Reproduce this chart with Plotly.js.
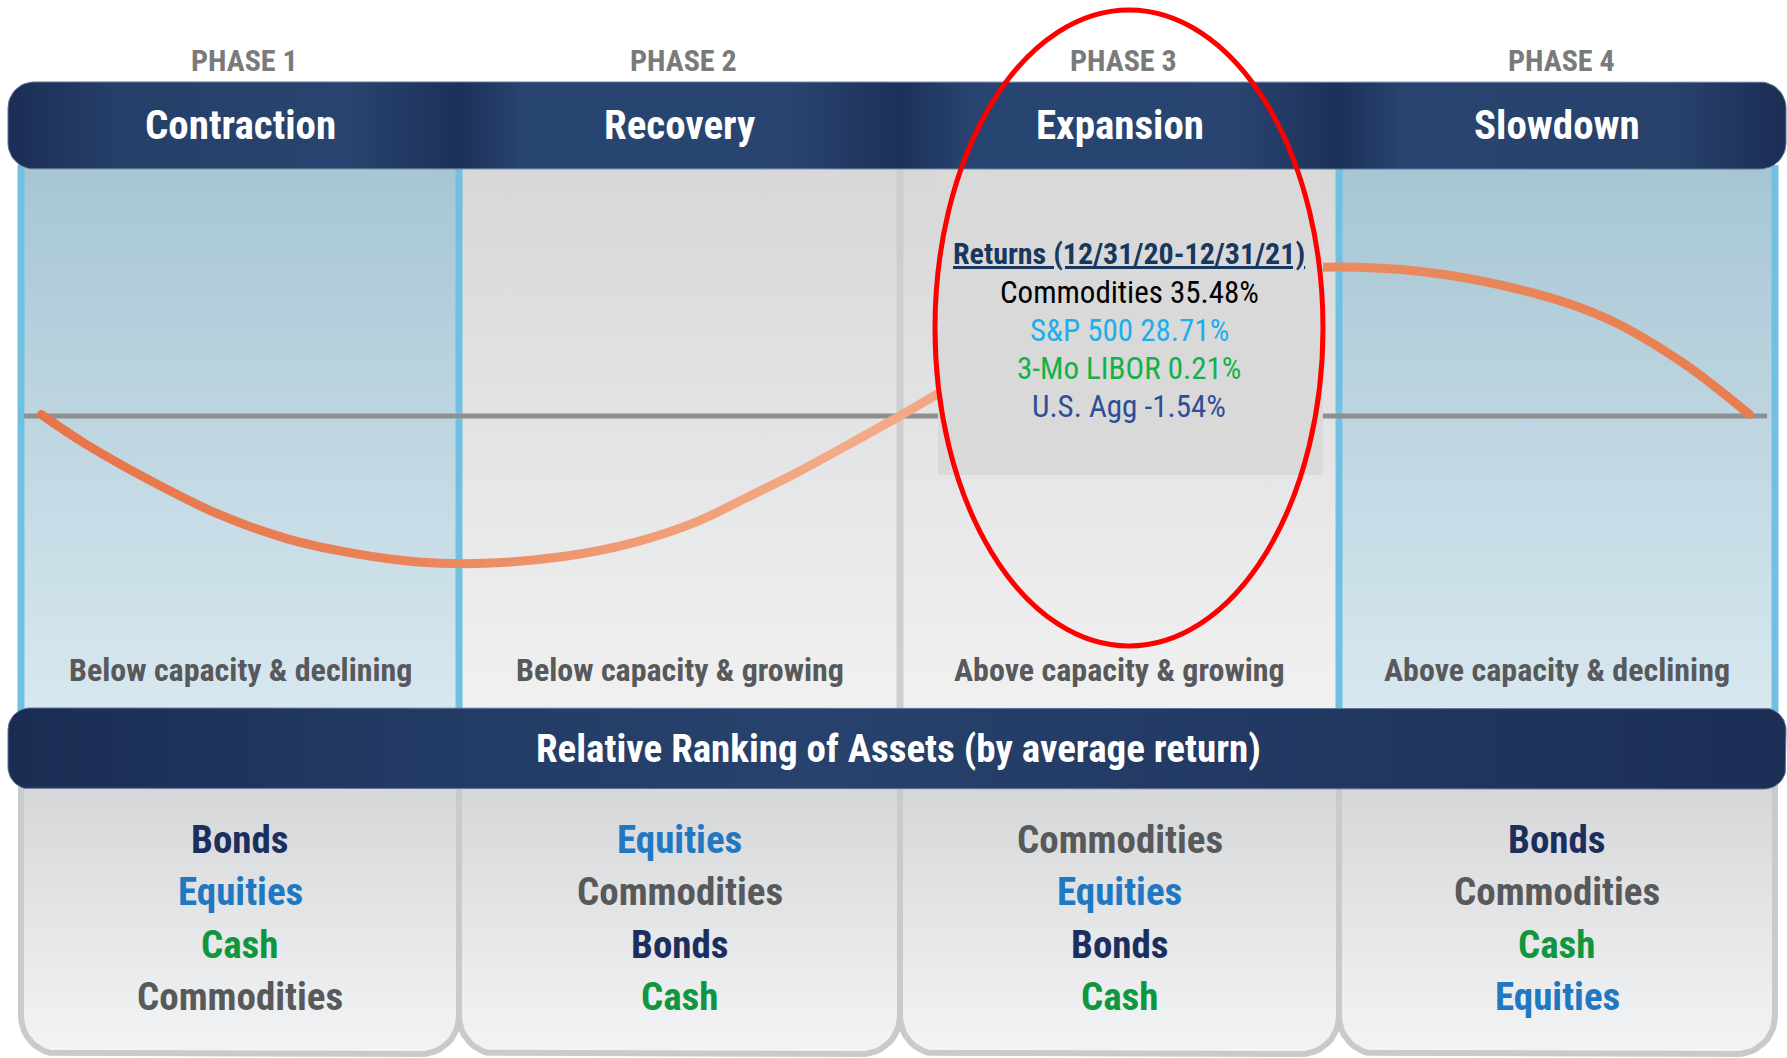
<!DOCTYPE html>
<html>
<head>
<meta charset="utf-8">
<script src="https://cdn.plot.ly/plotly-3.0.1.min.js"></script>
<style>html,body{margin:0;padding:0;background:#fff;}#chart{width:1787px;height:1058px;}</style>
</head>
<body>
<div id="chart"></div>
<script>
// ---------------- DATA ----------------
const phaseLabels = ['PHASE 1', 'PHASE 2', 'PHASE 3', 'PHASE 4'];
const phaseNames = ['Contraction', 'Recovery', 'Expansion', 'Slowdown'];
const phaseStates = ['Below capacity & declining', 'Below capacity & growing', 'Above capacity & growing', 'Above capacity & declining'];
const rankingTitle = 'Relative Ranking of Assets (by average return)';
const rankings = [
  ['Bonds', 'Equities', 'Cash', 'Commodities'],
  ['Equities', 'Commodities', 'Bonds', 'Cash'],
  ['Commodities', 'Equities', 'Bonds', 'Cash'],
  ['Bonds', 'Commodities', 'Cash', 'Equities']
];
const returnsTitle = 'Returns (12/31/20-12/31/21)';
const returnAssets = ['Commodities', 'S&P 500', '3-Mo LIBOR', 'U.S. Agg'];
const returnValues = [35.48, 28.71, 0.21, -1.54];
// business cycle curve: position in cycle (phases) vs output gap (relative)
const cycleX = [0.05, 0.15, 0.31, 0.46, 0.61, 0.76, 0.91, 1.06, 1.25, 1.40, 1.55, 1.66, 1.78, 1.89, 2.01, 2.09, 2.29, 2.55, 2.76, 2.97, 3.20, 3.46, 3.63, 3.80, 3.95];
const outputGap = [0.01, -0.19, -0.46, -0.68, -0.84, -0.94, -1.00, -1.01, -0.96, -0.87, -0.72, -0.56, -0.38, -0.20, 0.00, 0.14, 0.50, 0.82, 0.97, 1.02, 0.99, 0.84, 0.66, 0.36, 0.01];
const capacityX = [0.01, 3.99];
const capacityY = [0, 0];

// ---------------- STYLE / LAYOUT ----------------
const W = 1787, H = 1058;
const NARROW = '"Liberation Sans Narrow", "Arial Narrow", "Roboto Condensed", "Liberation Sans", sans-serif';
const colEdges = [21, 459, 900, 1339, 1775];
const colCenters = colEdges.slice(0, 4).map((e, i) => (e + colEdges[i + 1]) / 2);
const panelKinds = ['blue', 'grey', 'grey', 'blue'];
const panelTop = { blue: '#a6c5d3', grey: '#d6d7d9' };
const panelBot = { blue: '#d8e8f0', grey: '#f1f1f2' };
const assetColors = { Bonds: '#1b2f5e', Equities: '#1f78c1', Cash: '#10963f', Commodities: '#58595b' };
const returnColors = ['#000000', '#1eaeea', '#14b14b', '#2f4e97'];
const CURVE_BASE = '#ec8c62';
const curveStops = [[0, '#e8744a'], [0.2, '#ea8257'], [0.33, '#ef9a72'], [0.47, '#f3ab86'], [0.56, '#f1a47f'], [0.72, '#e98d62'], [1, '#e87e50']];

function roundedPoly(x0, y0, x1, y1, r) {
  const tl = r.tl || 0, tr = r.tr || 0, br = r.br || 0, bl = r.bl || 0;
  const xs = [], ys = [];
  function arc(cx, cy, rad, a0, a1) {
    if (rad === 0) { xs.push(cx); ys.push(cy); return; }
    const n = 12;
    for (let k = 0; k <= n; k++) {
      const a = (a0 + (a1 - a0) * k / n) * Math.PI / 180;
      xs.push(cx + rad * Math.cos(a)); ys.push(cy + rad * Math.sin(a));
    }
  }
  arc(x0 + tl, y0 + tl, tl, 180, 270);
  arc(x1 - tr, y0 + tr, tr, 270, 360);
  arc(x1 - br, y1 - br, br, 0, 90);
  arc(x0 + bl, y1 - bl, bl, 90, 180);
  xs.push(xs[0]); ys.push(ys[0]);
  return { x: xs, y: ys };
}

const traces = [];
const noLine = { width: 0, color: 'rgba(0,0,0,0)' };

// upper panels
for (let i = 0; i < 4; i++) {
  const p = roundedPoly(colEdges[i], 160, colEdges[i + 1], 714, {});
  const k = panelKinds[i];
  traces.push({ type: 'scatter', mode: 'lines', x: p.x, y: p.y, fill: 'toself', line: noLine, hoverinfo: 'skip',
    fillcolor: panelTop[k],
    fillgradient: { type: 'vertical', start: 160, stop: 714, colorscale: [[0, panelTop[k]], [1, panelBot[k]]] } });
}
// lower boxes
for (let i = 0; i < 4; i++) {
  const p = roundedPoly(colEdges[i], 760, colEdges[i + 1], 1054, { bl: 38, br: 38 });
  traces.push({ type: 'scatter', mode: 'lines', x: p.x, y: p.y, fill: 'toself', hoverinfo: 'skip',
    line: { width: 6, color: '#c9cacc' }, fillcolor: '#e4e5e6',
    fillgradient: { type: 'vertical', start: 789, stop: 1054, colorscale: [[0, '#d6d7d9'], [1, '#f3f4f5']] } });
}
// column borders
(function () {
  const bx = [], by = [], gx = [], gy = [];
  colEdges.forEach((e, i) => {
    const blue = (i === 0 || i === 4) ? true : (panelKinds[i - 1] === 'blue' || panelKinds[i] === 'blue');
    const tx = blue ? bx : gx, ty = blue ? by : gy;
    tx.push(e, e, null); ty.push(165, 712, null);
  });
  traces.push({ type: 'scatter', mode: 'lines', x: bx, y: by, line: { width: 7, color: '#70c1e1' }, hoverinfo: 'skip' });
  traces.push({ type: 'scatter', mode: 'lines', x: gx, y: gy, line: { width: 7, color: '#cdced0' }, hoverinfo: 'skip' });
})();
// header band
(function () {
  const p = roundedPoly(8, 82, 1786, 169, { tl: 26, bl: 26, tr: 26, br: 26 });
  const s = [[0, '#1b2d54'], [0.06, '#263f69'], [0.19, '#294470'], [0.2535, '#1c3159'], [0.29, '#284470'], [0.44, '#294470'], [0.5014, '#1c3159'], [0.54, '#284470'], [0.69, '#294470'], [0.748, '#1c3159'], [0.785, '#284470'], [0.94, '#27416b'], [1, '#1b2d54']];
  traces.push({ type: 'scatter', mode: 'lines', x: p.x, y: p.y, fill: 'toself', hoverinfo: 'skip',
    line: { width: 1, color: '#5f7294' }, fillcolor: '#24406a',
    fillgradient: { type: 'horizontal', start: 8, stop: 1786, colorscale: s } });
})();
// ranking band
(function () {
  const p = roundedPoly(8, 708, 1786, 789, { tl: 22, bl: 22, tr: 22, br: 22 });
  const s = [[0, '#1a2c52'], [0.25, '#233c66'], [0.45, '#27426c'], [0.6, '#243d67'], [0.8, '#20365f'], [1, '#1b2e55']];
  traces.push({ type: 'scatter', mode: 'lines', x: p.x, y: p.y, fill: 'toself', hoverinfo: 'skip',
    line: { width: 1, color: '#5f7294' }, fillcolor: '#22395f',
    fillgradient: { type: 'horizontal', start: 8, stop: 1786, colorscale: s } });
})();

// capacity line + cycle curve on the cycle axes
traces.push({ type: 'scatter', mode: 'lines', x: capacityX, y: capacityY, xaxis: 'x2', yaxis: 'y2',
  line: { width: 5, color: '#8e8f91' }, hoverinfo: 'skip' });
traces.push({ type: 'scatter', mode: 'lines', x: cycleX, y: outputGap, xaxis: 'x2', yaxis: 'y2',
  line: { width: 9, color: CURVE_BASE, shape: 'spline', smoothing: 1 }, hoverinfo: 'skip' });

// cycle axis mapping (phase units -> pixels)
const unitX = (colEdges[4] - colEdges[0]) / 4 - 0.5;
const x0px = 19.4;
const zeroY = 416, unitY = 145.9;

// ---------------- TEXT ----------------
const annotations = [];
function ann(x, y, text, size, color, weight) {
  annotations.push({ x: x, y: y, xref: 'x', yref: 'y', text: text, showarrow: false,
    xanchor: 'center', yanchor: 'middle',
    font: { family: NARROW, size: size, color: color, weight: weight } });
}
phaseLabels.forEach((t, i) => ann(colCenters[i] + 4, 60, t, 30, '#7a7a7a', 700));
phaseNames.forEach((t, i) => ann(colCenters[i], 125, t, 41, '#ffffff', 700));
phaseStates.forEach((t, i) => ann(colCenters[i], 670, t, 32, '#58595b', 700));
ann(898, 749, rankingTitle, 39, '#ffffff', 700);
rankings.forEach((list, i) => list.forEach((a, j) => ann(colCenters[i], 840 + j * 52.3, a, 39, assetColors[a], 700)));
ann(1129, 253, '<u>' + returnsTitle + '</u>', 30, '#17375e', 700);
returnAssets.forEach((a, j) => {
  const v = returnValues[j];
  ann(1129, 292 + j * 38.3, a + ' ' + v.toFixed(2) + '%', 31, returnColors[j], 400);
});

// ---------------- SHAPES ----------------
const shapes = [
  { type: 'rect', xref: 'x', yref: 'y', x0: 938, x1: 1323, y0: 170, y1: 475, fillcolor: '#d9d9da', line: { width: 0 }, layer: 'above' },
  { type: 'circle', xref: 'x', yref: 'y', x0: 935, x1: 1323, y0: 10, y1: 646, fillcolor: 'rgba(0,0,0,0)', line: { width: 5, color: '#ff0000' }, layer: 'above' }
];

const layout = {
  width: W, height: H,
  margin: { l: 0, r: 0, t: 0, b: 0, pad: 0 },
  paper_bgcolor: '#ffffff', plot_bgcolor: 'rgba(0,0,0,0)',
  showlegend: false,
  xaxis: { range: [0, W], visible: false, fixedrange: true },
  yaxis: { range: [H, 0], visible: false, fixedrange: true },
  xaxis2: { overlaying: 'x', range: [-x0px / unitX, (W - x0px) / unitX], visible: false, fixedrange: true },
  yaxis2: { overlaying: 'y', range: [-(H - zeroY) / unitY, zeroY / unitY], visible: false, fixedrange: true },
  shapes: shapes,
  annotations: annotations,
  hovermode: false
};

Plotly.newPlot('chart', traces, layout, { displayModeBar: false, staticPlot: true }).then(function (gd) {
  // colour the cycle curve with a horizontal gradient along its length
  const svg = gd.querySelector('svg.main-svg');
  const NS = 'http://www.w3.org/2000/svg';
  let defs = svg.querySelector('defs');
  if (!defs) { defs = document.createElementNS(NS, 'defs'); svg.insertBefore(defs, svg.firstChild); }
  const g = document.createElementNS(NS, 'linearGradient');
  g.setAttribute('id', 'cycleCurveGrad');
  g.setAttribute('x1', '0'); g.setAttribute('x2', '1'); g.setAttribute('y1', '0'); g.setAttribute('y2', '0');
  curveStops.forEach(function (s) {
    const st = document.createElementNS(NS, 'stop');
    st.setAttribute('offset', s[0]); st.setAttribute('stop-color', s[1]);
    g.appendChild(st);
  });
  defs.appendChild(g);
  gd.querySelectorAll('path.js-line').forEach(function (p) {
    if (p.style.stroke === 'rgb(236, 140, 98)') {
      p.style.stroke = 'url(#cycleCurveGrad)';
      p.style.strokeLinecap = 'round';
    }
  });
});
</script>
</body>
</html>
